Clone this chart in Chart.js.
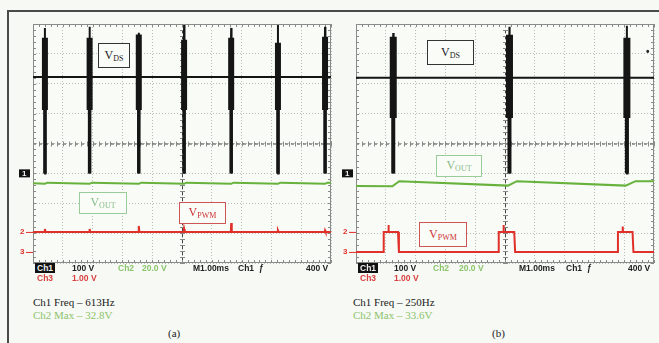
<!DOCTYPE html>
<html>
<head>
<meta charset="utf-8">
<script src="https://cdn.jsdelivr.net/npm/chart.js@4.4.1/dist/chart.umd.min.js"></script>
<style>
  html, body { margin: 0; padding: 0; background: #f6f9f4; width: 659px; height: 343px; overflow: hidden; }
  body { position: relative; font-family: "Liberation Serif", serif; }
  .edge { position: absolute; background: #4a4a4a; z-index: 5; }
  .panel { position: absolute; top: 19px; width: 323px; height: 249px; }
  .tag { position: absolute; box-sizing: border-box; border: 1.5px solid; background: #fafcf8; text-align: center; font-size: 12px; font-family: "Liberation Serif", serif; }
  .tag sub { font-size: 8px; vertical-align: -2px; }
  .ro { position: absolute; font: bold 8.5px "Liberation Sans", sans-serif; white-space: nowrap; color: #222; }
  .inv { background: #111; color: #eee; padding: 0 2px; }
  .g { color: #8cc46c; }
  .r { color: #d84040; }
  .note { position: absolute; font: 11px "Liberation Serif", serif; white-space: nowrap; color: #222; }
</style>
</head>
<body>
<div class="edge" style="left:7px;top:10px;width:660px;height:2px"></div>
<div class="edge" style="left:7px;top:10px;width:2px;height:340px"></div>

<div class="panel" style="left:13px"><canvas id="scopeA"></canvas></div>
<div class="panel" style="left:336px"><canvas id="scopeB"></canvas></div>

<!-- trace labels -->
<div class="tag" style="left:98px;top:43px;width:32px;height:25px;line-height:22px;border-color:#333;color:#222">V<sub>DS</sub></div>
<div class="tag" style="left:79px;top:192px;width:48px;height:22px;line-height:19px;border-color:#9c9;color:#8b8">V<sub>OUT</sub></div>
<div class="tag" style="left:179px;top:202px;width:47px;height:22px;line-height:19px;border-color:#c55;color:#c33">V<sub>PWM</sub></div>
<div class="tag" style="left:427px;top:40px;width:47px;height:25px;line-height:22px;border-color:#333;color:#222">V<sub>DS</sub></div>
<div class="tag" style="left:436px;top:155px;width:46px;height:22px;line-height:19px;border-color:#9c9;color:#8b8">V<sub>OUT</sub></div>
<div class="tag" style="left:419px;top:222px;width:48px;height:25px;line-height:22px;border-color:#c55;color:#c33">V<sub>PWM</sub></div>
<div class="ro" style="left:646px;top:46px;font-size:10px">•</div>

<!-- scope readouts (a) -->
<div class="ro" style="left:35px;top:263px"><span class="inv">Ch1</span></div>
<div class="ro" style="left:72px;top:263px">100 V</div>
<div class="ro g" style="left:118px;top:263px">Ch2</div>
<div class="ro g" style="left:142px;top:263px">20.0 V</div>
<div class="ro" style="left:193px;top:263px">M1.00ms</div>
<div class="ro" style="left:238px;top:263px">Ch1 &nbsp;<i>ƒ</i></div>
<div class="ro" style="left:306px;top:263px">400 V</div>
<div class="ro r" style="left:37px;top:273px">Ch3</div>
<div class="ro r" style="left:72px;top:273px">1.00 V</div>

<!-- scope readouts (b) -->
<div class="ro" style="left:358px;top:263px"><span class="inv">Ch1</span></div>
<div class="ro" style="left:394px;top:263px">100 V</div>
<div class="ro g" style="left:433px;top:263px">Ch2</div>
<div class="ro g" style="left:459px;top:263px">20.0 V</div>
<div class="ro" style="left:519px;top:263px">M1.00ms</div>
<div class="ro" style="left:566px;top:263px">Ch1 &nbsp;<i>ƒ</i></div>
<div class="ro" style="left:628px;top:263px">400 V</div>
<div class="ro r" style="left:360px;top:273px">Ch3</div>
<div class="ro r" style="left:394px;top:273px">1.00 V</div>

<!-- measurements -->
<div class="note" style="left:33px;top:296px">Ch1 Freq – 613Hz</div>
<div class="note" style="left:33px;top:309px;color:#8cc46c">Ch2 Max – 32.8V</div>
<div class="note" style="left:168px;top:327px">(a)</div>
<div class="note" style="left:353px;top:296px">Ch1 Freq – 250Hz</div>
<div class="note" style="left:353px;top:309px;color:#8cc46c">Ch2 Max – 33.6V</div>
<div class="note" style="left:492px;top:327px">(b)</div>

<script>
// ---- scope settings: volts per division and ground marker (in divisions) ----
const ch1PerDiv = 100, ch2PerDiv = 20, ch3PerDiv = 1;
const ch1Ground = 3.0, ch2Ground = 1.04, ch3Ground = 0.37;

// ---- (a) 613 Hz ----
// burst times in ms (1 ms / div)
const burstTimesA = [0.40, 1.90, 3.55, 5.07, 6.65, 8.22, 9.80];
const vdsPeakA = [487, 491, 471, 497, 487, 497, 491];     // V, thin spike top
const vdsRingTopA = [454, 454, 465, 447, 454, 437, 457];  // V, dense ringing top
const vdsRingMidA = 212;   // V, where the ringing narrows
const vdsBaseA = 323;      // V, flat level between bursts
const voutTimeA = [0, 0.40, 0.48, 1.90, 1.98, 3.55, 3.63, 5.07, 5.15, 6.65, 6.73, 8.22, 8.30, 9.80, 9.88, 10];
const voutA = [32.6, 32.2, 33.0, 32.2, 33.0, 32.2, 33.0, 32.2, 33.0, 32.2, 33.0, 32.2, 33.0, 32.2, 33.0, 33.0];
const pwmLevelA = 0.67;
const pwmSpikeA = [0.10, 0.10, 0.20, 0.10, 0.30, 0.05, 0.05];

// ---- (b) 250 Hz ----
const burstTimesB = [1.25, 5.15, 9.09];
const vdsPeakB = [470, 491, 494];
const vdsRingTopB = [457, 464, 454];
const vdsRingMidB = 185;
const vdsBaseB = 320;
const voutTimeB = [0, 1.22, 1.45, 5.10, 5.40, 9.05, 9.38, 10];
const voutB = [30.8, 30.6, 34.0, 31.0, 34.0, 31.0, 34.0, 34.0];
const pwmTimeB = [0, 0.91, 0.93, 1.08, 1.09, 1.10, 1.41, 1.44, 4.77, 4.79, 4.94, 4.95, 4.96, 5.31, 5.34, 8.77, 8.79, 8.94, 8.95, 8.96, 9.28, 9.31, 10];
const pwmB = [0, 0, 0.67, 0.67, 0.9, 0.67, 0.67, 0, 0, 0.67, 0.67, 0.9, 0.67, 0.67, 0, 0, 0.67, 0.67, 0.85, 0.67, 0.67, 0, 0];

const C_VDS = '#151515', C_OUT = '#66b23c', C_PWM = '#e0302a';

const d1 = v => ch1Ground + v / ch1PerDiv;
const d2 = v => ch2Ground + v / ch2PerDiv;
const d3 = v => ch3Ground + v / ch3PerDiv;

function vdsTrace(times, peaks, base) {
	const pts = [{x: 0, y: d1(base)}];
	times.forEach((t, i) => {
		pts.push({x: t - 0.02, y: d1(base)}, {x: t, y: d1(peaks[i])}, {x: t + 0.005, y: d1(0)}, {x: t + 0.02, y: d1(base)});
	});
	pts.push({x: 10, y: d1(base)});
	return pts;
}
function ringing(times, tops, bottom) {
	const pts = [];
	times.forEach((t, i) => {
		const top = Array.isArray(tops) ? tops[i] : tops;
		pts.push({x: t, y: d1(top)}, {x: t, y: d1(bottom)}, {x: t, y: null});
	});
	return pts;
}
function series(times, vals, conv) {
	return times.map((t, i) => ({x: t, y: conv(vals[i])}));
}
function pwmFlat(times, level, spikes) {
	const pts = [{x: 0, y: d3(level)}];
	times.forEach((t, i) => {
		pts.push({x: t - 0.01, y: d3(level)}, {x: t, y: d3(level + spikes[i])}, {x: t + 0.02, y: d3(level)});
	});
	pts.push({x: 10, y: d3(level)});
	return pts;
}

// graticule: background, dark centre lines with minor ticks, outline, channel markers
const graticule = {
	id: 'graticule',
	beforeDraw(chart) {
		const {ctx, chartArea: a} = chart;
		ctx.save();
		ctx.fillStyle = '#f9fbf7';
		ctx.fillRect(a.left, a.top, a.right - a.left, a.bottom - a.top);
		ctx.restore();
	},
	beforeDatasetsDraw(chart) {
		const {ctx, chartArea: a, scales: {x, y}} = chart;
		const cx = x.getPixelForValue(5), cy = y.getPixelForValue(4);
		ctx.save();
		ctx.strokeStyle = '#444';
		ctx.lineWidth = 1;
		ctx.setLineDash([3, 3]);
		ctx.beginPath();
		ctx.moveTo(a.left, cy + 0.5); ctx.lineTo(a.right, cy + 0.5);
		ctx.moveTo(cx + 0.5, a.top); ctx.lineTo(cx + 0.5, a.bottom);
		ctx.stroke();
		ctx.setLineDash([]);
		ctx.strokeStyle = '#888';
		ctx.beginPath();
		for (let v = 0; v <= 10.001; v += 0.2) {
			const px = Math.round(x.getPixelForValue(v)) + 0.5;
			ctx.moveTo(px, cy - 2); ctx.lineTo(px, cy + 3);
			ctx.moveTo(px, a.top); ctx.lineTo(px, a.top + 3);
			ctx.moveTo(px, a.bottom); ctx.lineTo(px, a.bottom - 3);
		}
		for (let v = 0; v <= 8.001; v += 0.2) {
			const py = Math.round(y.getPixelForValue(v)) + 0.5;
			ctx.moveTo(cx - 2, py); ctx.lineTo(cx + 3, py);
			ctx.moveTo(a.left, py); ctx.lineTo(a.left + 3, py);
			ctx.moveTo(a.right, py); ctx.lineTo(a.right - 3, py);
		}
		ctx.stroke();
		ctx.strokeStyle = '#8a8a8a';
		ctx.strokeRect(a.left + 0.5, a.top + 0.5, a.right - a.left - 1, a.bottom - a.top - 1);
		ctx.restore();
	},
	afterDraw(chart) {
		const {ctx, chartArea: a, scales: {y}} = chart;
		ctx.save();
		ctx.font = 'bold 8px "Liberation Sans", sans-serif';
		ctx.textBaseline = 'middle';
		const y1 = y.getPixelForValue(ch1Ground);
		ctx.fillStyle = '#111';
		ctx.fillRect(a.left - 14, y1 - 4, 11, 8);
		ctx.fillStyle = '#eee';
		ctx.fillText('1', a.left - 11, y1 + 0.5);
		[[ch2Ground, '2'], [ch3Ground, '3']].forEach(([g, s]) => {
			const py = y.getPixelForValue(g);
			ctx.fillStyle = C_PWM;
			ctx.fillText(s, a.left - 13, py);
			ctx.strokeStyle = C_PWM;
			ctx.beginPath();
			ctx.moveTo(a.left - 7, py + 0.5); ctx.lineTo(a.left, py + 0.5);
			ctx.stroke();
		});
		ctx.restore();
	}
};

function makeScope(id, ds) {
	const hidden = s => { s.width = s.isHorizontal() ? s.width : 0; s.height = s.isHorizontal() ? 0 : s.height; };
	new Chart(document.getElementById(id), {
		type: 'line',
		data: { datasets: ds },
		options: {
			animation: false,
			responsive: true,
			maintainAspectRatio: false,
			layout: { padding: { left: 20, top: 5, right: 5, bottom: 5 } },
			plugins: { legend: { display: false }, tooltip: { enabled: false } },
			elements: { point: { radius: 0 }, line: { tension: 0, borderCapStyle: 'butt' } },
			scales: {
				x: {
					type: 'linear', min: 0, max: 10,
					ticks: { display: false, stepSize: 1 },
					grid: { color: '#b9beb9', lineWidth: 1, drawTicks: false },
					border: { display: false, dash: [1, 2] },
					afterFit: hidden
				},
				y: {
					type: 'linear', min: 0, max: 8,
					ticks: { display: false, stepSize: 1 },
					grid: { color: '#b9beb9', lineWidth: 1, drawTicks: false },
					border: { display: false, dash: [1, 2] },
					afterFit: hidden
				}
			}
		},
		plugins: [graticule]
	});
}

makeScope('scopeA', [
	{ label: 'VDS', data: vdsTrace(burstTimesA, vdsPeakA, vdsBaseA), borderColor: C_VDS, borderWidth: 2 },
	{ label: 'VDS ringing', data: ringing(burstTimesA, vdsRingTopA, vdsRingMidA), borderColor: C_VDS, borderWidth: 6, spanGaps: false },
	{ label: 'VDS ringing tail', data: ringing(burstTimesA, vdsRingMidA, 0), borderColor: C_VDS, borderWidth: 3.5, spanGaps: false },
	{ label: 'VOUT', data: series(voutTimeA, voutA, d2), borderColor: C_OUT, borderWidth: 2 },
	{ label: 'VPWM', data: pwmFlat(burstTimesA, pwmLevelA, pwmSpikeA), borderColor: C_PWM, borderWidth: 2 }
]);

makeScope('scopeB', [
	{ label: 'VDS', data: vdsTrace(burstTimesB, vdsPeakB, vdsBaseB), borderColor: C_VDS, borderWidth: 2 },
	{ label: 'VDS ringing', data: ringing(burstTimesB, vdsRingTopB, vdsRingMidB), borderColor: C_VDS, borderWidth: 7, spanGaps: false },
	{ label: 'VDS ringing tail', data: ringing(burstTimesB, vdsRingMidB, 0), borderColor: C_VDS, borderWidth: 4, spanGaps: false },
	{ label: 'VOUT', data: series(voutTimeB, voutB, d2), borderColor: C_OUT, borderWidth: 2 },
	{ label: 'VPWM', data: series(pwmTimeB, pwmB, d3), borderColor: C_PWM, borderWidth: 2 }
]);
</script>
</body>
</html>
